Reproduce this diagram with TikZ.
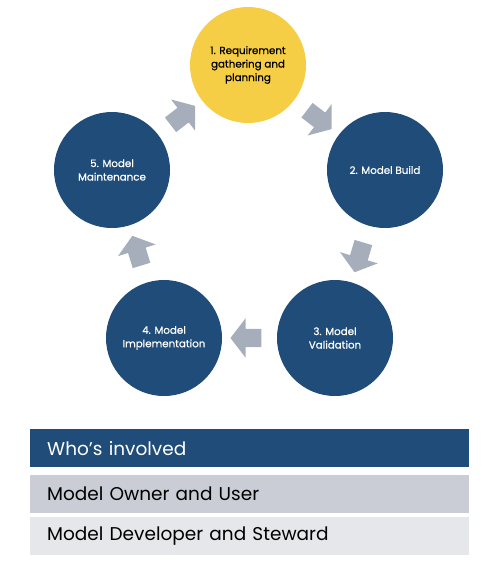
\documentclass[tikz,border=0pt]{standalone}
\usepackage{fontspec}
\setmainfont{Poppins}
\newfontfamily\stagefont{Poppins}[FakeBold=0.7]
\usetikzlibrary{shapes.arrows}
\definecolor{navy}{HTML}{1F4C78}
\definecolor{gold}{HTML}{F6CE46}
\definecolor{arrowgray}{HTML}{A6AEBB}
\definecolor{bartwo}{HTML}{CACDD5}
\definecolor{barthree}{HTML}{E6E7EB}
\tikzset{
  stage/.style={circle, minimum size=116pt, inner sep=0pt, fill=navy, text=white,
    font=\stagefont\fontsize{10.3}{13.5}\selectfont, align=center},
  flowarrow/.style={single arrow, fill=arrowgray, inner xsep=0pt, inner ysep=9pt,
    single arrow head extend=10.5pt, single arrow tip angle=105, minimum height=31pt, minimum width=0pt},
  bar/.style={anchor=north west, minimum width=439pt, minimum height=38pt, inner sep=0pt,
    text width=439pt, align=left, font=\fontsize{18.5}{22}\selectfont},
}
\begin{document}
\begin{tikzpicture}[x=1pt,y=-1pt]
\useasboundingbox (0,0) rectangle (500,582);
\node[stage, fill=gold, text=black] (s1) at (248,65) {1. Requirement\\gathering and\\planning};
\node[stage] (s2) at (385,170) {2. Model Build};
\node[stage] (s3) at (335,338) {3. Model\\Validation};
\node[stage] (s4) at (164,338) {4. Model\\Implementation};
\node[stage] (s5) at (112,170) {5. Model\\Maintenance};
\path (s1) -- (s2) node[midway, flowarrow, sloped] (a1) {};
\path (s2) -- (s3) node[midway, flowarrow, sloped, allow upside down] (a2) {};
\path (s3) -- (s4) node[midway, flowarrow, sloped, allow upside down] (a3) {};
\path (s4) -- (s5) node[midway, flowarrow, sloped, allow upside down] (a4) {};
\path (s5) -- (s1) node[midway, flowarrow, sloped, allow upside down] (a5) {};
\node[bar, fill=navy, text=white] (b1) at (30,429) {\hspace{17pt}Who’s involved};
\node[bar, fill=bartwo, text=black] (b2) at (30,475) {\hspace{17pt}Model Owner and User};
\node[bar, fill=barthree, text=black] (b3) at (30,517) {\hspace{17pt}Model Developer and Steward};
\end{tikzpicture}
\end{document}
